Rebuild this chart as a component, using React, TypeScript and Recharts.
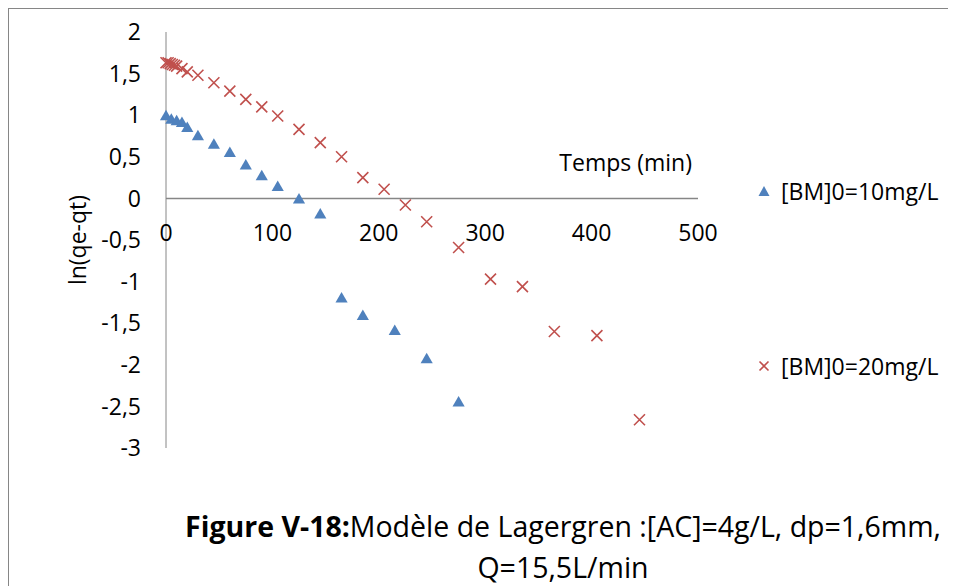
import { ScatterChart, Scatter, XAxis, YAxis, ZAxis, ReferenceLine, Legend } from "recharts";

// temps (min) / ln(qe-qt) — [BM]0=10mg/L
const timeA = [0, 5, 10, 15, 20, 30, 45, 60, 75, 90, 105, 125, 145, 165, 185, 215, 245, 275];
const lnA = [0.98, 0.94, 0.92, 0.9, 0.84, 0.74, 0.64, 0.54, 0.39, 0.26, 0.13, -0.02, -0.2, -1.21, -1.42, -1.6, -1.94, -2.46];

// [BM]0=20mg/L
const timeB = [0, 2, 4, 6, 8, 10, 15, 20, 30, 45, 60, 75, 90, 105, 125, 145, 165, 185, 205, 225, 245, 275, 305, 335, 365, 405, 445];
const lnB = [1.63, 1.63, 1.62, 1.61, 1.6, 1.59, 1.56, 1.52, 1.48, 1.39, 1.29, 1.19, 1.1, 0.99, 0.83, 0.67, 0.5, 0.25, 0.11, -0.08, -0.28, -0.59, -0.97, -1.06, -1.6, -1.65, -2.66];

const xTicks = [0, 100, 200, 300, 400, 500];
const yTicks = [-3, -2.5, -2, -1.5, -1, -0.5, 0, 0.5, 1, 1.5, 2];
const seriesNames = ["[BM]0=10mg/L", "[BM]0=20mg/L"];

const dataA = timeA.map((t, i) => ({ t, v: lnA[i] }));
const dataB = timeB.map((t, i) => ({ t, v: lnB[i] }));

const BLUE = "#4F81BD";
const RED = "#C0504D";
const GREY = "#868686";
const FONT = "'Open Sans', sans-serif";

const W = 940;
const H = 570;
const XAX_H = 30;
const M = { top: 23, right: 251, bottom: 101, left: 0 };
const plotH = H - M.top - M.bottom - XAX_H;
const zeroY = M.top + plotH * (2 / 5);

const fmt = (v: number) => String(v).replace(".", ",");

function XTick(props: any) {
  const { x, payload } = props;
  return (
    <text x={x} y={zeroY + 43} textAnchor="middle" fontSize={23} fontFamily={FONT} fill="#000">
      {payload.value}
    </text>
  );
}

function Cross(props: any) {
  const { cx, cy } = props;
  const s = 5.5;
  return (
    <path d={`M${cx - s},${cy - s}L${cx + s},${cy + s}M${cx - s},${cy + s}L${cx + s},${cy - s}`} stroke={RED} strokeWidth={1.6} fill="none" />
  );
}

function LegendBox() {
  return (
    <div style={{ fontFamily: FONT, fontSize: 23, color: "#000" }}>
      <div style={{ display: "flex", alignItems: "center", height: 30 }}>
        <svg width={14} height={14} style={{ marginRight: 10 }}>
          <path d="M7,2L12.5,12L1.5,12Z" fill={BLUE} />
        </svg>
        {seriesNames[0]}
      </div>
      <div style={{ display: "flex", alignItems: "center", height: 30, marginTop: 145 }}>
        <svg width={14} height={14} style={{ marginRight: 10 }}>
          <path d="M2.5,2.5L11.5,11.5M2.5,11.5L11.5,2.5" stroke={RED} strokeWidth={1.6} />
        </svg>
        {seriesNames[1]}
      </div>
    </div>
  );
}

export default function App() {
  return (
    <div style={{ position: "relative", width: 948, height: 578, borderLeft: `1px solid ${GREY}`, borderTop: `1px solid ${GREY}`, overflow: "hidden" }}>
      <style>{"body{margin:8px;overflow:hidden}"}</style>
      <ScatterChart width={W} height={H} margin={M}>
        <XAxis
          type="number"
          dataKey="t"
          domain={[0, 500]}
          ticks={xTicks}
          axisLine={false}
          tickLine={false}
          tick={<XTick />}
          height={XAX_H}
        />
        <YAxis
          type="number"
          dataKey="v"
          domain={[-3, 2]}
          ticks={yTicks}
          width={157}
          tickFormatter={fmt}
          tickLine={false}
          tickSize={0}
          tickMargin={25}
          stroke={GREY}
          tick={{ fill: "#000", fontSize: 23, fontFamily: FONT }}
          label={{ value: "ln(qe-qt)", angle: -90, position: "center", dx: -10, fill: "#000", fontSize: 23, fontFamily: FONT }}
        />
        <ZAxis range={[64, 64]} />
        <ReferenceLine
          y={0}
          stroke={GREY}
          strokeWidth={1.5}
          label={(p: any) => {
            const vb = p.viewBox;
            return (
              <text x={vb.x + vb.width - 6} y={vb.y - 27} textAnchor="end" fontSize={23} fontFamily={FONT} fill="#000">
                Temps (min)
              </text>
            );
          }}
        />
        <Legend
          layout="vertical"
          align="center"
          verticalAlign="middle"
          content={<LegendBox />}
          wrapperStyle={{ top: 167, left: 748, width: 200 }}
        />
        <Scatter name={seriesNames[0]} data={dataA} fill={BLUE} shape="triangle" isAnimationActive={false} />
        <Scatter name={seriesNames[1]} data={dataB} fill={RED} shape={<Cross />} isAnimationActive={false} />
      </ScatterChart>
      <div style={{ position: "absolute", top: 497, left: 154, width: 800, textAlign: "center", fontFamily: FONT, fontSize: 28.5, lineHeight: "41px", color: "#000" }}>
        <b>Figure V-18:</b>Modèle de Lagergren :[AC]=4g/L, dp=1,6mm,
        <br />
        Q=15,5L/min
      </div>
    </div>
  );
}
